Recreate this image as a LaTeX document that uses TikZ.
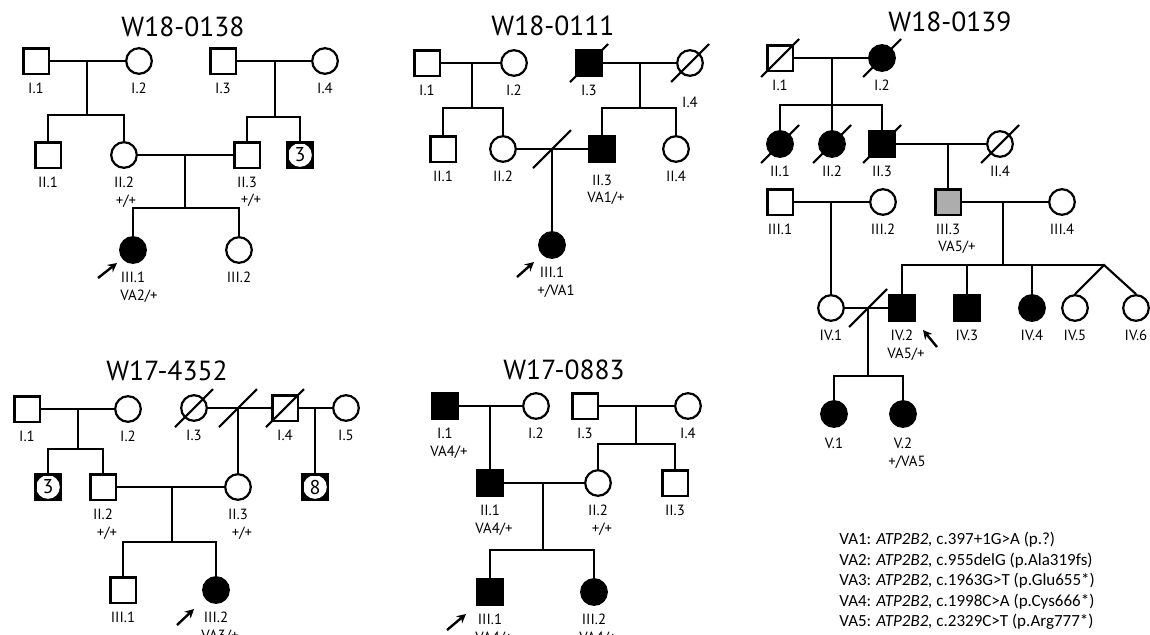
\documentclass[tikz,border=0pt]{standalone}
\usepackage{fontspec}
\setmainfont{PT Sans}
\newfontfamily\keyfont{Carlito}
\usetikzlibrary{positioning,arrows.meta,calc}
\tikzset{
  pm/.style   ={rectangle, draw, line width=1.1pt, minimum size=12.6pt, inner sep=0pt},
  pf/.style   ={circle, draw, line width=1.1pt, minimum size=12.8pt, inner sep=0pt},
  aff/.style  ={fill=black},
  het/.style  ={fill=black!32},
  pmult/.style={pm, fill=black, font=\fontsize{10}{10}\selectfont,
                path picture={\fill[white] (path picture bounding box.center) circle (5.9pt);}},
  lab/.style  ={font=\fontsize{7.4}{8.5}\selectfont, inner sep=0pt},
  gt/.style   ={lab, xshift=2pt},
  ttl/.style  ={font=\fontsize{13.8}{15}\selectfont, inner sep=0pt, anchor=base},
  ln/.style   ={line width=1.05pt},
  slash/.style={line width=1.05pt},
  pband/.style={-{Stealth[length=4.5pt,width=4.6pt]}, line width=1.2pt},
  key/.style  ={font=\keyfont\fontsize{8.5}{10.2}\selectfont, align=left, inner sep=0pt,
                anchor=north west},
}
\newcommand{\deadmark}[1]{\draw[slash] ($(#1)+(-19,19)$) -- ($(#1)+(19,-19)$);}

\begin{document}
\begin{tikzpicture}[x=0.5pt, y=-0.5pt]
  \useasboundingbox (0,0) rectangle (1150,634);

  % W18-0138
  \node[ttl] (a-t) at (183,36.7) {W18-0138};
  \node[pm] (a-i1) at (36,61) {};
  \node[pf] (a-i2) at (139,61) {};
  \node[pm] (a-i3) at (223,61) {};
  \node[pf] (a-i4) at (325,61) {};
  \node[pm] (a-ii1) at (48,155) {};
  \node[pf] (a-ii2) at (124,155) {};
  \node[pm] (a-ii3) at (247,155) {};
  \node[pmult] (a-ii4) at (300,155) {3};
  \node[pf, aff] (a-iii1) at (133,250) {};
  \node[pf] (a-iii2) at (239,250) {};
  \coordinate (a-c1) at (87,61);   \coordinate (a-s1) at (87,115);
  \coordinate (a-c2) at (275,61);  \coordinate (a-s2) at (275,117);
  \coordinate (a-c3) at (185,155); \coordinate (a-s3) at (185,208);
  \draw[ln] (a-i1) -- (a-i2);
  \draw[ln] (a-c1) -- (a-s1);
  \draw[ln] (a-ii1.north) |- (a-s1) -| (a-ii2.north);
  \draw[ln] (a-i3) -- (a-i4);
  \draw[ln] (a-c2) -- (a-s2);
  \draw[ln] (a-ii3.north) |- (a-s2) -| (a-ii4.north);
  \draw[ln] (a-ii2) -- (a-ii3);
  \draw[ln] (a-c3) -- (a-s3);
  \draw[ln] (a-iii1.north) |- (a-s3) -| (a-iii2.north);
  \node[lab, below=4pt of a-i1] (a-i1l) {I.1};
  \node[lab, below=4pt of a-i2] (a-i2l) {I.2};
  \node[lab, below=4pt of a-i3] (a-i3l) {I.3};
  \node[lab, below=4pt of a-i4] (a-i4l) {I.4};
  \node[lab, below=4pt of a-ii1] (a-ii1l) {II.1};
  \node[lab, below=4pt of a-ii2] (a-ii2l) {II.2};
  \node[lab, below=4pt of a-ii3] (a-ii3l) {II.3};
  \node[lab, below=4pt of a-iii1] (a-iii1l) {III.1};
  \node[lab, below=4pt of a-iii2] (a-iii2l) {III.2};
  \node[gt, below=3pt of a-ii2l, xshift=-1pt] (a-ii2g) {+/+};
  \node[gt, below=3pt of a-ii3l] (a-ii3g) {+/+};
  \node[gt, below=3pt of a-iii1l, xshift=1pt] (a-iii1g) {VA2/+};
  \coordinate (a-pb) at (98,278); \coordinate (a-pt) at (117,263);
  \draw[pband] (a-pb) -- (a-pt);

  % W18-0111
  \node[ttl] (b-t) at (553,35) {W18-0111};
  \node[pm] (b-i1) at (427,63) {};
  \node[pf] (b-i2) at (514,63) {};
  \node[pm, aff] (b-i3) at (589,63) {};
  \node[pf] (b-i4) at (690,63) {};
  \node[pm] (b-ii1) at (443,149) {};
  \node[pf] (b-ii2) at (503,149) {};
  \node[pm, aff] (b-ii3) at (602,149) {};
  \node[pf] (b-ii4) at (676,149) {};
  \node[pf, aff] (b-iii1) at (552,245) {};
  \coordinate (b-c1) at (472,63);  \coordinate (b-s1) at (472,108);
  \coordinate (b-c2) at (640,63);  \coordinate (b-s2) at (640,108);
  \coordinate (b-c3) at (552,149);
  \draw[ln] (b-i1) -- (b-i2);
  \draw[ln] (b-c1) -- (b-s1);
  \draw[ln] (b-ii1.north) |- (b-s1) -| (b-ii2.north);
  \draw[ln] (b-i3) -- (b-i4);
  \draw[ln] (b-c2) -- (b-s2);
  \draw[ln] (b-ii3.north) |- (b-s2) -| (b-ii4.north);
  \draw[ln] (b-ii2) -- (b-ii3);
  \draw[ln] (b-c3) -- (b-iii1.north);
  \deadmark{b-i3}
  \deadmark{b-i4}
  \deadmark{b-c3}
  \node[lab, below=4pt of b-i1] (b-i1l) {I.1};
  \node[lab, below=4pt of b-i2] (b-i2l) {I.2};
  \node[lab, below=4pt of b-i3] (b-i3l) {I.3};
  \node[lab, below=10pt of b-i4] (b-i4l) {I.4};
  \node[lab, below=4pt of b-ii1] (b-ii1l) {II.1};
  \node[lab, below=4pt of b-ii2] (b-ii2l) {II.2};
  \node[lab, below=6pt of b-ii3] (b-ii3l) {II.3};
  \node[lab, below=4pt of b-ii4] (b-ii4l) {II.4};
  \node[lab, below=4pt of b-iii1] (b-iii1l) {III.1};
  \node[gt, below=3pt of b-ii3l] (b-ii3g) {VA1/+};
  \node[gt, below=3pt of b-iii1l] (b-iii1g) {+/VA1};
  \coordinate (b-pb) at (517,277); \coordinate (b-pt) at (534,262);
  \draw[pband] (b-pb) -- (b-pt);

  % W18-0139
  \node[ttl] (c-t) at (950,31.7) {W18-0139};
  \node[pm] (c-i1) at (780,58) {};
  \node[pf, aff] (c-i2) at (882,58) {};
  \node[pf, aff] (c-ii1) at (780,144) {};
  \node[pf, aff] (c-ii2) at (832,144) {};
  \node[pm, aff] (c-ii3) at (882,144) {};
  \node[pf] (c-ii4) at (1000,144) {};
  \node[pm] (c-iii1) at (780,202) {};
  \node[pf] (c-iii2) at (883,202) {};
  \node[pm, het] (c-iii3) at (948,202) {};
  \node[pf] (c-iii4) at (1062,202) {};
  \node[pf] (c-iv1) at (831,308) {};
  \node[pm, aff] (c-iv2) at (902,308) {};
  \node[pm, aff] (c-iv3) at (967,308) {};
  \node[pf, aff] (c-iv4) at (1032,308) {};
  \node[pf] (c-iv5) at (1075,308) {};
  \node[pf] (c-iv6) at (1136,308) {};
  \node[pf, aff] (c-v1) at (834,414) {};
  \node[pf, aff] (c-v2) at (903,414) {};
  \coordinate (c-c1) at (832,58);   \coordinate (c-s1) at (832,105);
  \coordinate (c-c2) at (948,144);
  \coordinate (c-c3) at (831,202);
  \coordinate (c-c4) at (1003,202); \coordinate (c-tw) at (1104,265);
  \coordinate (c-c5) at (868,308);  \coordinate (c-s5) at (868,376);
  \draw[ln] (c-i1) -- (c-i2);
  \draw[ln] (c-c1) -- (c-ii2.north);
  \draw[ln] (c-ii1.north) |- (c-s1) -| (c-ii3.north);
  \draw[ln] (c-ii3) -- (c-ii4);
  \draw[ln] (c-c2) -- (c-iii3.north);
  \draw[ln] (c-iii1) -- (c-iii2);
  \draw[ln] (c-c3) -- (c-iv1.north);
  \draw[ln] (c-iii3) -- (c-iii4);
  \draw[ln] (c-c4) -- (c-c4 |- c-tw);
  \draw[ln] (c-iv2.north) |- (c-tw);
  \draw[ln] (c-iv3.north) -- (c-iv3.north |- c-tw);
  \draw[ln] (c-iv4.north) -- (c-iv4.north |- c-tw);
  \draw[ln] (c-iv5.north) -- (c-tw) -- (c-iv6.north);
  \draw[ln] (c-iv1) -- (c-iv2);
  \draw[ln] (c-c5) -- (c-s5);
  \draw[ln] (c-v1.north) |- (c-s5) -| (c-v2.north);
  \deadmark{c-i1}
  \deadmark{c-i2}
  \deadmark{c-ii1}
  \deadmark{c-ii2}
  \deadmark{c-ii3}
  \deadmark{c-ii4}
  \deadmark{c-c5}
  \node[lab, below=4pt of c-i1] (c-i1l) {I.1};
  \node[lab, below=4pt of c-i2] (c-i2l) {I.2};
  \node[lab, below=4pt of c-ii1] (c-ii1l) {II.1};
  \node[lab, below=4pt of c-ii2] (c-ii2l) {II.2};
  \node[lab, below=4pt of c-ii3] (c-ii3l) {II.3};
  \node[lab, below=4pt of c-ii4] (c-ii4l) {II.4};
  \node[lab, below=4pt of c-iii1] (c-iii1l) {III.1};
  \node[lab, below=4pt of c-iii2] (c-iii2l) {III.2};
  \node[lab, below=4pt of c-iii3] (c-iii3l) {III.3};
  \node[lab, below=4pt of c-iii4] (c-iii4l) {III.4};
  \node[lab, below=4pt of c-iv1] (c-iv1l) {IV.1};
  \node[lab, below=4pt of c-iv2] (c-iv2l) {IV.2};
  \node[lab, below=4pt of c-iv3] (c-iv3l) {IV.3};
  \node[lab, below=4pt of c-iv4] (c-iv4l) {IV.4};
  \node[lab, below=4pt of c-iv5] (c-iv5l) {IV.5};
  \node[lab, below=4pt of c-iv6] (c-iv6l) {IV.6};
  \node[lab, below=5pt of c-v1] (c-v1l) {V.1};
  \node[lab, below=5pt of c-v2] (c-v2l) {V.2};
  \node[gt, below=3pt of c-iii3l, xshift=2.5pt] (c-iii3g) {VA5/+};
  \node[gt, below=3pt of c-iv2l] (c-iv2g) {VA5/+};
  \node[gt, below=3pt of c-v2l] (c-v2g) {+/VA5};
  \coordinate (c-pb) at (937,347); \coordinate (c-pt) at (923,330);
  \draw[pband] (c-pb) -- (c-pt);

  % W17-4352
  \node[ttl] (d-t) at (167,380) {W17-4352};
  \node[pm] (d-i1) at (27,409) {};
  \node[pf] (d-i2) at (128,409) {};
  \node[pf] (d-i3) at (194,408) {};
  \node[pm] (d-i4) at (285,408) {};
  \node[pf] (d-i5) at (346,408) {};
  \node[pmult] (d-ii1) at (48,487) {3};
  \node[pm] (d-ii2) at (103,487) {};
  \node[pf] (d-ii3) at (238,487) {};
  \node[pmult] (d-ii4) at (315,487) {8};
  \node[pm] (d-iii1) at (123,590) {};
  \node[pf, aff] (d-iii2) at (216,590) {};
  \coordinate (d-c1) at (78,409);  \coordinate (d-s1) at (78,449);
  \coordinate (d-c2) at (238,408);
  \coordinate (d-c3) at (315,408);
  \coordinate (d-c4) at (172,487); \coordinate (d-s4) at (172,542);
  \draw[ln] (d-i1) -- (d-i2);
  \draw[ln] (d-c1) -- (d-s1);
  \draw[ln] (d-ii1.north) |- (d-s1) -| (d-ii2.north);
  \draw[ln] (d-i3) -- (d-i4);
  \draw[ln] (d-c2) -- (d-ii3.north);
  \draw[ln] (d-i4) -- (d-i5);
  \draw[ln] (d-c3) -- (d-ii4.north);
  \draw[ln] (d-ii2) -- (d-ii3);
  \draw[ln] (d-c4) -- (d-s4);
  \draw[ln] (d-iii1.north) |- (d-s4) -| (d-iii2.north);
  \deadmark{d-i3}
  \deadmark{d-i4}
  \deadmark{d-c2}
  \node[lab, below=4pt of d-i1] (d-i1l) {I.1};
  \node[lab, below=4pt of d-i2] (d-i2l) {I.2};
  \node[lab, below=4pt of d-i3] (d-i3l) {I.3};
  \node[lab, below=4pt of d-i4] (d-i4l) {I.4};
  \node[lab, below=4pt of d-i5] (d-i5l) {I.5};
  \node[lab, below=4pt of d-ii2] (d-ii2l) {II.2};
  \node[lab, below=4pt of d-ii3] (d-ii3l) {II.3};
  \node[lab, below=4pt of d-iii1] (d-iii1l) {III.1};
  \node[lab, below=4pt of d-iii2] (d-iii2l) {III.2};
  \node[gt, below=3pt of d-ii2l] (d-ii2g) {+/+};
  \node[gt, below=3pt of d-ii3l] (d-ii3g) {+/+};
  \node[gt, below=3pt of d-iii2l] (d-iii2g) {VA3/+};
  \coordinate (d-pb) at (177,625); \coordinate (d-pt) at (194,609);
  \draw[pband] (d-pb) -- (d-pt);

  % W17-0883
  \node[ttl] (e-t) at (564,379) {W17-0883};
  \node[pm, aff] (e-i1) at (445,406) {};
  \node[pf] (e-i2) at (536,406) {};
  \node[pm] (e-i3) at (585,406) {};
  \node[pf] (e-i4) at (688,406) {};
  \node[pm, aff] (e-ii1) at (490,483) {};
  \node[pf] (e-ii2) at (598,483) {};
  \node[pm] (e-ii3) at (675,483) {};
  \node[pm, aff] (e-iii1) at (490,592) {};
  \node[pf, aff] (e-iii2) at (594,592) {};
  \coordinate (e-c1) at (490,406);
  \coordinate (e-c2) at (636,406); \coordinate (e-s2) at (636,444);
  \coordinate (e-c3) at (543,483); \coordinate (e-s3) at (543,550);
  \draw[ln] (e-i1) -- (e-i2);
  \draw[ln] (e-c1) -- (e-ii1.north);
  \draw[ln] (e-i3) -- (e-i4);
  \draw[ln] (e-c2) -- (e-s2);
  \draw[ln] (e-ii2.north) |- (e-s2) -| (e-ii3.north);
  \draw[ln] (e-ii1) -- (e-ii2);
  \draw[ln] (e-c3) -- (e-s3);
  \draw[ln] (e-iii1.north) |- (e-s3) -| (e-iii2.north);
  \node[lab, below=4pt of e-i1] (e-i1l) {I.1};
  \node[lab, below=4pt of e-i2] (e-i2l) {I.2};
  \node[lab, below=4pt of e-i3] (e-i3l) {I.3};
  \node[lab, below=4pt of e-i4] (e-i4l) {I.4};
  \node[lab, below=4pt of e-ii1] (e-ii1l) {II.1};
  \node[lab, below=4pt of e-ii2] (e-ii2l) {II.2};
  \node[lab, below=4pt of e-ii3] (e-ii3l) {II.3};
  \node[lab, below=4pt of e-iii1] (e-iii1l) {III.1};
  \node[lab, below=4pt of e-iii2] (e-iii2l) {III.2};
  \node[gt, below=3pt of e-i1l] (e-i1g) {VA4/+};
  \node[gt, below=3pt of e-ii1l] (e-ii1g) {VA4/+};
  \node[gt, below=3pt of e-ii2l] (e-ii2g) {+/+};
  \node[gt, below=3pt of e-iii1l] (e-iii1g) {VA4/+};
  \node[gt, below=3pt of e-iii2l] (e-iii2g) {VA4/+};
  \coordinate (e-pb) at (447,630); \coordinate (e-pt) at (466,614);
  \draw[pband] (e-pb) -- (e-pt);

  % variant key
  \node[key] (vkey) at (839,532) {%
    VA1: \textit{ATP2B2,} c.397+1G>A (p.?)\\
    VA2: \textit{ATP2B2,} c.955delG (p.Ala319fs)\\
    VA3: \textit{ATP2B2,} c.1963G>T (p.Glu655*)\\
    VA4: \textit{ATP2B2,} c.1998C>A (p.Cys666*)\\
    VA5: \textit{ATP2B2,} c.2329C>T (p.Arg777*)};
\end{tikzpicture}
\end{document}
